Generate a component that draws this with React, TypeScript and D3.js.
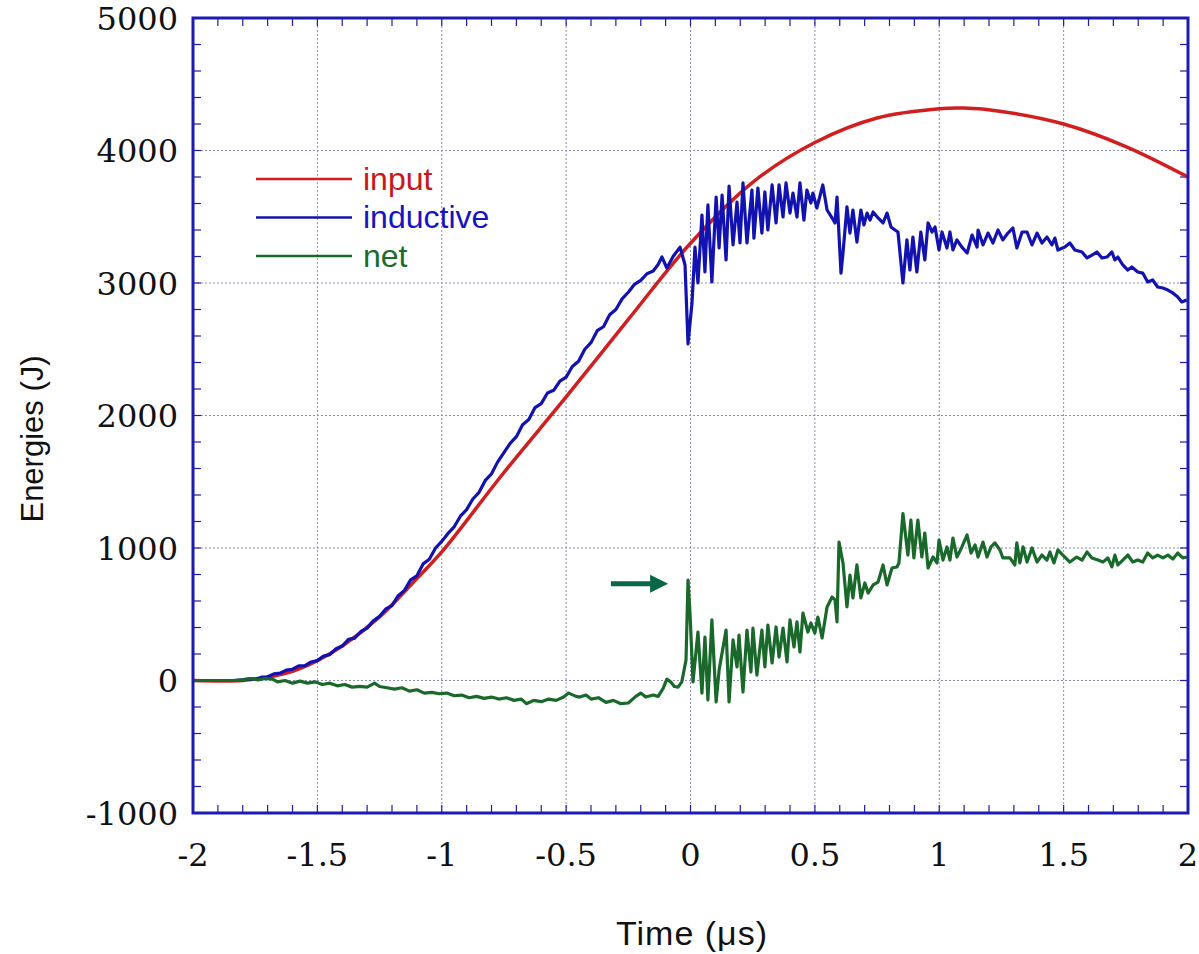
import React, { useEffect, useRef } from 'react';
import * as d3 from 'd3';

// Time (µs) vs energy (J)
const INPUT: [number, number][] = [
  [-2, 0], [-1.8, 0], [-1.7, 25], [-1.6, 70], [-1.5, 150], [-1.4, 260], [-1.25, 480],
  [-1.1, 770], [-1.0, 970], [-0.75, 1570], [-0.5, 2140], [-0.25, 2725], [0, 3300],
  [0.25, 3760], [0.5, 4060], [0.75, 4245], [1.0, 4315], [1.1, 4320], [1.25, 4295],
  [1.5, 4200], [1.75, 4030], [2.0, 3800],
];

const INDUCTIVE: [number, number][] = [
  [-2, 0], [-1.84, 0], [-1.8, 5], [-1.775, 12], [-1.75, 10], [-1.725, 25], [-1.7, 28],
  [-1.675, 50], [-1.65, 55], [-1.625, 78], [-1.6, 85], [-1.575, 110], [-1.55, 112],
  [-1.525, 140], [-1.5, 150], [-1.475, 185], [-1.45, 195], [-1.425, 240], [-1.4, 260],
  [-1.375, 310], [-1.35, 320], [-1.325, 370], [-1.3, 395], [-1.275, 450], [-1.25, 485],
  [-1.225, 540], [-1.2, 565], [-1.175, 640], [-1.15, 680], [-1.125, 760], [-1.1, 790],
  [-1.075, 880], [-1.05, 915], [-1.025, 1000], [-1.0, 1050], [-0.975, 1110], [-0.95, 1160],
  [-0.925, 1240], [-0.9, 1290], [-0.875, 1370], [-0.85, 1420], [-0.825, 1510], [-0.8, 1560],
  [-0.775, 1650], [-0.75, 1720], [-0.725, 1790], [-0.7, 1840], [-0.675, 1930], [-0.65, 1970],
  [-0.625, 2060], [-0.6, 2090], [-0.575, 2170], [-0.55, 2190], [-0.525, 2260], [-0.5, 2290],
  [-0.475, 2370], [-0.45, 2410], [-0.425, 2500], [-0.4, 2550], [-0.375, 2640], [-0.35, 2670],
  [-0.325, 2760], [-0.3, 2800], [-0.275, 2880], [-0.25, 2930], [-0.225, 2990], [-0.2, 3020],
  [-0.175, 3070], [-0.15, 3090], [-0.13, 3140], [-0.115, 3196], [-0.095, 3113], [-0.07, 3200],
  [-0.042, 3271], [-0.022, 3136], [-0.01, 2540], [0.006, 2849], [0.018, 3271], [0.03, 3000],
  [0.046, 3513], [0.058, 3083], [0.07, 3589], [0.086, 3008], [0.103, 3649], [0.115, 3264],
  [0.127, 3664], [0.143, 3174], [0.155, 3732], [0.171, 3287], [0.187, 3611], [0.199, 3302],
  [0.211, 3755], [0.227, 3302], [0.247, 3702], [0.255, 3339], [0.271, 3717], [0.287, 3377],
  [0.299, 3687], [0.311, 3400], [0.328, 3740], [0.344, 3453], [0.356, 3740], [0.372, 3498],
  [0.384, 3755], [0.4, 3528], [0.412, 3679], [0.428, 3498], [0.44, 3755], [0.456, 3475],
  [0.468, 3702], [0.484, 3604], [0.492, 3679], [0.508, 3566], [0.532, 3740], [0.549, 3551],
  [0.569, 3491], [0.581, 3453], [0.589, 3649], [0.605, 3075], [0.613, 3226], [0.629, 3574],
  [0.641, 3377], [0.653, 3551], [0.669, 3309], [0.685, 3551], [0.697, 3438], [0.71, 3528],
  [0.722, 3475], [0.734, 3536], [0.754, 3491], [0.774, 3453], [0.79, 3528], [0.806, 3423],
  [0.822, 3400], [0.834, 3385], [0.854, 3000], [0.87, 3325], [0.882, 3098], [0.894, 3347],
  [0.91, 3083], [0.926, 3385], [0.942, 3174], [0.955, 3453], [0.971, 3385], [0.983, 3423],
  [0.999, 3249], [1.011, 3385], [1.031, 3264], [1.043, 3385], [1.055, 3249], [1.071, 3325],
  [1.091, 3271], [1.112, 3226], [1.132, 3362], [1.152, 3271], [1.156, 3400], [1.176, 3287],
  [1.196, 3377], [1.216, 3302], [1.236, 3400], [1.256, 3325], [1.276, 3377], [1.296, 3415],
  [1.312, 3264], [1.333, 3385], [1.353, 3385], [1.373, 3287], [1.393, 3377], [1.413, 3302],
  [1.433, 3347], [1.453, 3287], [1.465, 3339], [1.477, 3249], [1.505, 3271], [1.525, 3302],
  [1.545, 3249], [1.574, 3234], [1.594, 3189], [1.614, 3211], [1.634, 3234], [1.654, 3189],
  [1.674, 3196], [1.694, 3234], [1.706, 3174], [1.718, 3196], [1.738, 3136], [1.758, 3098],
  [1.774, 3121], [1.798, 3083], [1.818, 3075], [1.838, 3008], [1.858, 3023], [1.878, 2970],
  [1.899, 2962], [1.919, 2947], [1.939, 2925], [1.959, 2894], [1.975, 2857], [1.995, 2872],
];

const NET: [number, number][] = [
  [-2, 0], [-1.83, 0], [-1.8, 5], [-1.77, 15], [-1.74, 5], [-1.71, 15], [-1.68, 10],
  [-1.66, -10], [-1.63, 0], [-1.6, -20], [-1.57, -5], [-1.54, -20], [-1.51, -10],
  [-1.48, -30], [-1.45, -20], [-1.42, -40], [-1.39, -30], [-1.36, -50], [-1.33, -45],
  [-1.3, -50], [-1.27, -20], [-1.25, -45], [-1.22, -55], [-1.19, -65], [-1.16, -55],
  [-1.13, -80], [-1.1, -70], [-1.07, -95], [-1.04, -90], [-1.01, -100], [-0.98, -95],
  [-0.95, -115], [-0.92, -110], [-0.89, -130], [-0.86, -120], [-0.83, -135], [-0.8, -125],
  [-0.77, -140], [-0.74, -130], [-0.71, -150], [-0.68, -140], [-0.66, -175], [-0.63, -150],
  [-0.6, -160], [-0.57, -140], [-0.54, -150], [-0.51, -125], [-0.49, -95], [-0.46, -120],
  [-0.445, -125], [-0.42, -110], [-0.4, -140], [-0.37, -130], [-0.34, -165], [-0.31, -150],
  [-0.28, -175], [-0.25, -170], [-0.22, -120], [-0.2, -95], [-0.18, -125], [-0.15, -110],
  [-0.13, -120], [-0.11, -60], [-0.095, 10], [-0.08, -10], [-0.065, -45], [-0.05, -50],
  [-0.035, -10], [-0.018, 155], [-0.01, 758], [-0.002, 509], [0.01, -11], [0.03, 366],
  [0.046, -95], [0.058, 328], [0.07, -147], [0.086, 457], [0.103, -162], [0.115, 79],
  [0.143, 381], [0.155, -162], [0.171, 306], [0.187, 102], [0.195, 343], [0.211, -87],
  [0.227, 381], [0.243, 64], [0.251, 396], [0.267, 41], [0.287, 381], [0.299, 102],
  [0.311, 419], [0.328, 132], [0.344, 404], [0.356, 177], [0.372, 396], [0.388, 140],
  [0.4, 457], [0.416, 253], [0.428, 442], [0.44, 215], [0.452, 509], [0.472, 366],
  [0.484, 434], [0.5, 358], [0.512, 479], [0.529, 321], [0.549, 555], [0.569, 630],
  [0.581, 608], [0.589, 442], [0.597, 1045], [0.613, 887], [0.629, 555], [0.641, 796],
  [0.653, 623], [0.669, 872], [0.685, 623], [0.701, 736], [0.714, 660], [0.734, 721],
  [0.754, 743], [0.774, 872], [0.79, 721], [0.81, 849], [0.83, 857], [0.838, 887],
  [0.854, 1260], [0.874, 947], [0.886, 1211], [0.898, 925], [0.914, 1211], [0.93, 932],
  [0.942, 1113], [0.955, 849], [0.975, 932], [0.991, 887], [0.999, 1060], [1.015, 909],
  [1.031, 1008], [1.043, 909], [1.055, 1075], [1.071, 932], [1.091, 1008], [1.112, 1098],
  [1.128, 962], [1.144, 1023], [1.156, 932], [1.176, 1045], [1.192, 932], [1.208, 1008],
  [1.224, 1038], [1.244, 985], [1.256, 925], [1.284, 925], [1.304, 872], [1.312, 1038],
  [1.324, 887], [1.337, 1008], [1.353, 894], [1.373, 1000], [1.393, 894], [1.413, 947],
  [1.433, 909], [1.445, 970], [1.461, 887], [1.477, 985], [1.497, 947], [1.525, 894],
  [1.553, 932], [1.574, 909], [1.594, 970], [1.614, 925], [1.638, 909], [1.658, 894],
  [1.678, 925], [1.694, 857], [1.706, 947], [1.718, 872], [1.738, 909], [1.758, 947],
  [1.778, 894], [1.798, 909], [1.818, 894], [1.838, 962], [1.858, 925], [1.878, 947],
  [1.899, 925], [1.919, 947], [1.939, 917], [1.959, 962], [1.979, 925], [1.995, 932],
];

const X_TICKS = [-2, -1.5, -1, -0.5, 0, 0.5, 1, 1.5, 2];
const Y_TICKS = [-1000, 0, 1000, 2000, 3000, 4000, 5000];
const LEGEND = [
  { name: 'input', color: '#d11f1f', text: '#c8161c' },
  { name: 'inductive', color: '#1212b0', text: '#1414c0' },
  { name: 'net', color: '#19692a', text: '#1a6b2c' },
];
// annotation arrow (time µs, energy J)
const ARROW = { t0: -0.32, t1: -0.09, e: 730 };

export default function App() {
  const svgRef = useRef<SVGSVGElement>(null);

  useEffect(() => {
    const width = 1199;
    const height = 954;
    const margin = { top: 18, right: 11, bottom: 141, left: 193 };
    const innerW = width - margin.left - margin.right;
    const innerH = height - margin.top - margin.bottom;

    const svg = d3.select(svgRef.current);
    svg.selectAll('*').remove();

    const x = d3.scaleLinear().domain([-2, 2]).range([margin.left, margin.left + innerW]);
    const y = d3.scaleLinear().domain([-1000, 5000]).range([margin.top + innerH, margin.top]);

    const frameColor = '#1c1cb0';
    const gridColor = '#8e8eb6';
    const serif = '"DejaVu Serif", serif';
    const sans = '"Liberation Sans", Arial, sans-serif';

    svg.append('rect').attr('width', width).attr('height', height).attr('fill', 'white');

    // grid
    X_TICKS.slice(1, -1).forEach(t => {
      svg.append('line').attr('x1', x(t)).attr('x2', x(t)).attr('y1', y(5000)).attr('y2', y(-1000))
        .attr('stroke', gridColor).attr('stroke-width', 1).attr('stroke-dasharray', '2,2');
    });
    Y_TICKS.slice(1, -1).forEach(v => {
      svg.append('line').attr('x1', x(-2)).attr('x2', x(2)).attr('y1', y(v)).attr('y2', y(v))
        .attr('stroke', gridColor).attr('stroke-width', 1).attr('stroke-dasharray', '2,2');
    });

    // minor ticks (inward) on all four sides
    d3.range(-19, 20).forEach(i => {
      const px = x(i / 10);
      [[y(-1000), -8], [y(5000), 8]].forEach(([y0, d]) => {
        svg.append('line').attr('x1', px).attr('x2', px).attr('y1', y0).attr('y2', y0 + d)
          .attr('stroke', frameColor).attr('stroke-width', 1.2);
      });
    });
    d3.range(-4, 25).forEach(i => {
      const py = y(i * 200);
      [[x(-2), 8], [x(2), -8]].forEach(([x0, d]) => {
        svg.append('line').attr('x1', x0).attr('x2', x0 + d).attr('y1', py).attr('y2', py)
          .attr('stroke', frameColor).attr('stroke-width', 1.2);
      });
    });

    // series
    svg.append('defs').append('clipPath').attr('id', 'plot-clip')
      .append('rect').attr('x', margin.left).attr('y', margin.top).attr('width', innerW).attr('height', innerH);
    const g = svg.append('g').attr('clip-path', 'url(#plot-clip)');

    const smooth = d3.line<[number, number]>().x(d => x(d[0])).y(d => y(d[1])).curve(d3.curveCatmullRom);
    const raw = d3.line<[number, number]>().x(d => x(d[0])).y(d => y(d[1]));

    g.append('path').datum(INPUT).attr('d', smooth).attr('fill', 'none')
      .attr('stroke', LEGEND[0].color).attr('stroke-width', 3.5);
    g.append('path').datum(INDUCTIVE).attr('d', raw).attr('fill', 'none')
      .attr('stroke', LEGEND[1].color).attr('stroke-width', 3.2).attr('stroke-linejoin', 'round');
    g.append('path').datum(NET).attr('d', raw).attr('fill', 'none')
      .attr('stroke', LEGEND[2].color).attr('stroke-width', 3.2).attr('stroke-linejoin', 'round');

    // frame
    svg.append('rect').attr('x', margin.left).attr('y', margin.top).attr('width', innerW).attr('height', innerH)
      .attr('fill', 'none').attr('stroke', frameColor).attr('stroke-width', 3);

    // tick labels
    Y_TICKS.forEach(v => {
      svg.append('text').attr('x', margin.left - 15).attr('y', y(v)).attr('dy', '0.36em')
        .attr('text-anchor', 'end').style('font-family', serif).style('font-size', '32px')
        .style('fill', '#111').text(String(v));
    });
    X_TICKS.forEach(t => {
      svg.append('text').attr('x', x(t)).attr('y', margin.top + innerH + 53)
        .attr('text-anchor', 'middle').style('font-family', serif).style('font-size', '32px')
        .style('fill', '#111').text(String(t));
    });

    // axis titles
    svg.append('text').attr('x', 692).attr('y', 945).attr('text-anchor', 'middle')
      .style('font-family', sans).style('font-size', '34px').style('fill', '#111')
      .style('letter-spacing', '1px').text('Time (\u03bcs)');
    svg.append('text').attr('transform', `translate(43,${439}) rotate(-90)`).attr('text-anchor', 'middle')
      .style('font-family', sans).style('font-size', '31px').style('fill', '#111')
      .text('Energies (J)');

    // legend
    LEGEND.forEach((s, i) => {
      const ly = 179 + i * 38.5;
      svg.append('line').attr('x1', 256).attr('x2', 352).attr('y1', ly).attr('y2', ly)
        .attr('stroke', s.color).attr('stroke-width', 2.5);
      svg.append('text').attr('x', 363).attr('y', ly).attr('dy', '0.34em')
        .style('font-family', sans).style('font-size', '32px').style('fill', s.text).text(s.name);
    });

    // arrow pointing at the net spike
    const ax0 = x(ARROW.t0);
    const ax1 = x(ARROW.t1);
    const ay = y(ARROW.e);
    svg.append('line').attr('x1', ax0).attr('x2', ax1 - 16).attr('y1', ay).attr('y2', ay)
      .attr('stroke', '#0b6648').attr('stroke-width', 5);
    svg.append('path').attr('d', `M${ax1},${ay} L${ax1 - 18},${ay - 9} L${ax1 - 18},${ay + 9} Z`)
      .attr('fill', '#0b6648');
  }, []);

  return (
    <svg ref={svgRef} width={1199} height={954}
      style={{ position: 'absolute', left: 0, top: 0, display: 'block' }} />
  );
}
